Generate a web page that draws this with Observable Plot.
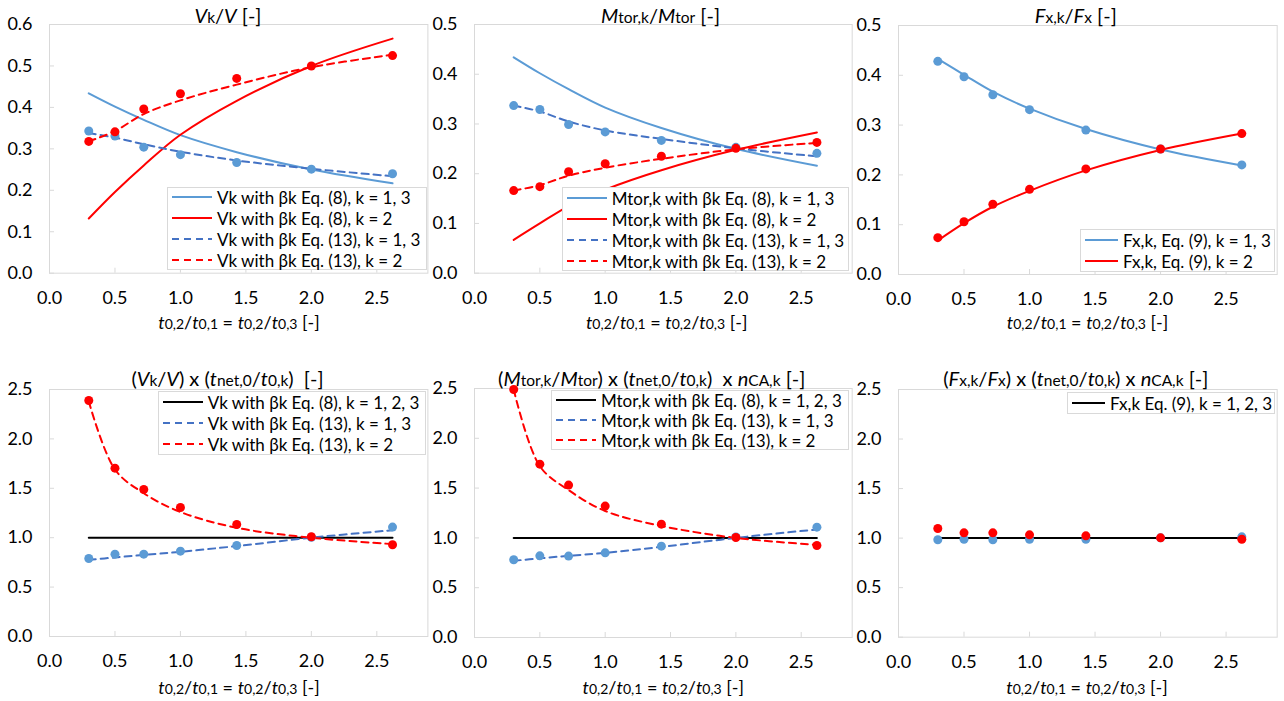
<!DOCTYPE html>
<html><head><meta charset="utf-8">
<script src="https://cdn.jsdelivr.net/npm/d3@7"></script>
<script src="https://cdn.jsdelivr.net/npm/@observablehq/plot@0.6"></script>
<style>
body{margin:0;background:#fff;}
#root{position:relative;width:1284px;height:701px;overflow:hidden;font-family:Lato,sans-serif;color:#000;}
.plot{position:absolute;}
.title{position:absolute;transform:translate(-50%,-50%);white-space:nowrap;font-size:18px;line-height:1;}
.s{font-size:14px;}
.ptitle{font-size:20px;}
.ptitle .s{font-size:15.5px;}
.legend{position:absolute;background:#fff;border:1px solid #d9d9d9;box-sizing:border-box;font-size:17px;}
.row{position:absolute;left:0;right:0;height:20px;white-space:nowrap;}
.row svg{position:absolute;top:0;}
.row span{position:absolute;top:50%;transform:translateY(-50%);line-height:1;}
</style></head>
<body><div id="root"></div>
<script>
// ---------- data ----------
const xRatio = [0.3, 0.5, 0.72, 1.0, 1.43, 2.0, 2.62];
const xTicks = [0, 0.5, 1.0, 1.5, 2.0, 2.5];

// Panel 1: Vk/V
const v_eq8_k13   = [0.434, 0.402, 0.370, 0.333, 0.292, 0.250, 0.217];
const v_eq8_k2    = [0.132, 0.196, 0.260, 0.334, 0.416, 0.500, 0.566];
const v_eq13_k13  = [0.338, 0.327, 0.311, 0.293, 0.272, 0.252, 0.234];
const v_eq13_k2   = [0.318, 0.343, 0.384, 0.417, 0.455, 0.497, 0.527];
const v_pts_k13   = [0.343, 0.331, 0.304, 0.286, 0.267, 0.251, 0.240];
const v_pts_k2    = [0.318, 0.341, 0.396, 0.433, 0.470, 0.500, 0.525];

// Panel 2: Mtor,k/Mtor
const m_eq8_k13   = [0.434, 0.402, 0.370, 0.333, 0.292, 0.250, 0.216];
const m_eq8_k2    = [0.067, 0.100, 0.135, 0.168, 0.207, 0.248, 0.283];
const m_eq13_k13  = [0.337, 0.325, 0.305, 0.287, 0.270, 0.251, 0.235];
const m_eq13_k2   = [0.166, 0.177, 0.196, 0.212, 0.230, 0.249, 0.262];
const m_pts_k13   = [0.337, 0.329, 0.299, 0.284, 0.267, 0.253, 0.241];
const m_pts_k2    = [0.166, 0.174, 0.204, 0.220, 0.235, 0.251, 0.263];

// Panel 3: Fx,k/Fx
const f_eq9_k13   = [0.433, 0.401, 0.367, 0.333, 0.292, 0.251, 0.219];
const f_eq9_k2    = [0.068, 0.103, 0.136, 0.168, 0.209, 0.250, 0.283];
const f_pts_k13   = [0.428, 0.397, 0.361, 0.331, 0.290, 0.252, 0.220];
const f_pts_k2    = [0.074, 0.106, 0.141, 0.171, 0.212, 0.252, 0.283];

// Panel 4: (Vk/V) x (tnet,0/t0,k)
const vn_eq8      = [1, 1, 1, 1, 1, 1, 1];
const vn_eq13_k13 = [0.776, 0.800, 0.825, 0.857, 0.915, 1.000, 1.076];
const vn_eq13_k2  = [2.380, 1.690, 1.450, 1.260, 1.100, 1.000, 0.935];
const vn_pts_k13  = [0.789, 0.833, 0.833, 0.864, 0.921, 1.005, 1.107];
const vn_pts_k2   = [2.389, 1.704, 1.488, 1.306, 1.134, 1.009, 0.928];

// Panel 5: (Mtor,k/Mtor) x (tnet,0/t0,k) x nCA,k
const mn_eq8      = [1, 1, 1, 1, 1, 1, 1];
const mn_eq13_k13 = [0.770, 0.795, 0.820, 0.850, 0.910, 1.000, 1.085];
const mn_eq13_k2  = [2.490, 1.720, 1.480, 1.270, 1.120, 1.000, 0.930];
const mn_pts_k13  = [0.780, 0.820, 0.817, 0.850, 0.917, 1.010, 1.108];
const mn_pts_k2   = [2.490, 1.740, 1.530, 1.319, 1.138, 1.004, 0.924];

// Panel 6: (Fx,k/Fx) x (tnet,0/t0,k) x nCA,k
const fn_eq9      = [1, 1, 1, 1, 1, 1, 1];
const fn_pts_k13  = [0.983, 0.989, 0.983, 0.989, 0.989, 1.003, 1.013];
const fn_pts_k2   = [1.097, 1.053, 1.053, 1.033, 1.023, 1.003, 0.989];

// ---------- styles ----------
const BLUE = "#5B9BD5", DBLUE = "#4472C4", RED = "#FF0000", BLACK = "#000000";
const DASH = "7,5";
const xLabel = '<i>t</i><span class="s">0,2</span>/<i>t</i><span class="s">0,1</span> = <i>t</i><span class="s">0,2</span>/<i>t</i><span class="s">0,3</span> [-]';

const panels = [
  { px0:49.3, px1:427.7, py0:24, py1:272.7, yMax:0.6, yStep:0.1,
    title:'<i>V</i><span class="s">k</span>/<i>V</i> [-]', tx:228, ty:15, lx:239, ly:322,
    lines:[
      {y:v_eq8_k13, stroke:BLUE, label:"Vk with βk Eq. (8), k = 1, 3"},
      {y:v_eq8_k2, stroke:RED, label:"Vk with βk Eq. (8), k = 2"},
      {y:v_eq13_k13, stroke:DBLUE, dash:true, label:"Vk with βk Eq. (13), k = 1, 3"},
      {y:v_eq13_k2, stroke:RED, dash:true, label:"Vk with βk Eq. (13), k = 2"}],
    dots:[{y:v_pts_k13, fill:BLUE},{y:v_pts_k2, fill:RED}],
    legend:{left:167, top:187, w:260, h:83, sample:40}},
  { px0:474.3, px1:852, py0:24, py1:272.7, yMax:0.5, yStep:0.1,
    title:'<i>M</i><span class="s">tor,k</span>/<i>M</i><span class="s">tor</span> [-]', tx:660.5, ty:15, lx:666.7, ly:322,
    lines:[
      {y:m_eq8_k13, stroke:BLUE, label:"Mtor,k with βk Eq. (8), k = 1, 3"},
      {y:m_eq8_k2, stroke:RED, label:"Mtor,k with βk Eq. (8), k = 2"},
      {y:m_eq13_k13, stroke:DBLUE, dash:true, label:"Mtor,k with βk Eq. (13), k = 1, 3"},
      {y:m_eq13_k2, stroke:RED, dash:true, label:"Mtor,k with βk Eq. (13), k = 2"}],
    dots:[{y:m_pts_k13, fill:BLUE},{y:m_pts_k2, fill:RED}],
    legend:{left:561.7, top:187, w:287.3, h:84, sample:40}},
  { px0:898.3, px1:1277, py0:25, py1:274, yMax:0.5, yStep:0.1,
    title:'<i>F</i><span class="s">x,k</span>/<i>F</i><span class="s">x</span> [-]', tx:1075.8, ty:15, lx:1087.5, ly:322,
    lines:[
      {y:f_eq9_k13, stroke:BLUE, label:"Fx,k, Eq. (9), k = 1, 3"},
      {y:f_eq9_k2, stroke:RED, label:"Fx,k, Eq. (9), k = 2"}],
    dots:[{y:f_pts_k13, fill:BLUE},{y:f_pts_k2, fill:RED}],
    legend:{left:1080, top:229, w:195, h:43, sample:33}},
  { px0:49.3, px1:427.7, py0:389, py1:636, yMax:2.5, yStep:0.5,
    title:'(<i>V</i><span class="s">k</span>/<i>V</i>) x (<i>t</i><span class="s">net,0</span>/<i>t</i><span class="s">0,k</span>)&nbsp; [-]', tx:227.5, ty:378, lx:239, ly:686.7,
    lines:[
      {y:vn_eq8, stroke:BLACK, linear:true, label:"Vk with βk Eq. (8), k = 1, 2, 3"},
      {y:vn_eq13_k13, stroke:DBLUE, dash:true, label:"Vk with βk Eq. (13), k = 1, 3"},
      {y:vn_eq13_k2, stroke:RED, dash:true, label:"Vk with βk Eq. (13), k = 2"}],
    dots:[{y:vn_pts_k13, fill:BLUE},{y:vn_pts_k2, fill:RED}],
    legend:{left:157.7, top:391, w:268.3, h:64, sample:40}},
  { px0:474.3, px1:852, py0:387.7, py1:636.7, yMax:2.5, yStep:0.5,
    title:'(<i>M</i><span class="s">tor,k</span>/<i>M</i><span class="s">tor</span>) x (<i>t</i><span class="s">net,0</span>/<i>t</i><span class="s">0,k</span>)&nbsp; x <i>n</i><span class="s">CA,k</span> [-]', tx:651.7, ty:378, lx:663.3, ly:686.7,
    lines:[
      {y:mn_eq8, stroke:BLACK, linear:true, label:"Mtor,k with βk Eq. (8), k = 1, 2, 3"},
      {y:mn_eq13_k13, stroke:DBLUE, dash:true, label:"Mtor,k with βk Eq. (13), k = 1, 3"},
      {y:mn_eq13_k2, stroke:RED, dash:true, label:"Mtor,k with βk Eq. (13), k = 2"}],
    dots:[{y:mn_pts_k13, fill:BLUE},{y:mn_pts_k2, fill:RED}],
    legend:{left:551, top:390, w:298, h:60, sample:40}},
  { px0:898.3, px1:1277, py0:389, py1:636.7, yMax:2.5, yStep:0.5,
    title:'(<i>F</i><span class="s">x,k</span>/<i>F</i><span class="s">x</span>) x (<i>t</i><span class="s">net,0</span>/<i>t</i><span class="s">0,k</span>) x <i>n</i><span class="s">CA,k</span> [-]', tx:1075.8, ty:378, lx:1087, ly:686.7,
    lines:[
      {y:fn_eq9, stroke:BLACK, linear:true, label:"Fx,k Eq. (9), k = 1, 2, 3"}],
    dots:[{y:fn_pts_k13, fill:BLUE},{y:fn_pts_k2, fill:RED}],
    legend:{left:1067, top:391.7, w:208, h:22.3, sample:33}}
];

const root = document.getElementById("root");
const ML = 49, MR = 3, MT = 12, MB = 45, XMAX = 2.89;
const fmt = d3.format(".1f");

for (const p of panels) {
  const yTicks = d3.range(0, p.yMax + 1e-9, p.yStep).map(v => +v.toFixed(2));
  const width = ML + (p.px1 - p.px0) + MR;
  const height = MT + (p.py1 - p.py0) + MB;
  const rows = d => xRatio.map((x, i) => ({x, y: d[i]}));
  const marks = [
    Plot.frame({stroke: "#d9d9d9"}),
    Plot.axisX({ticks: xTicks, tickSize: 0, tickPadding: 18, tickFormat: fmt, label: null}),
    Plot.axisX({ticks: xTicks, tickSize: -5, tickFormat: () => "", stroke: "#d9d9d9", label: null}),
    Plot.axisY({ticks: yTicks, tickSize: 0, tickPadding: 17, tickFormat: fmt, label: null}),
    Plot.axisY({ticks: yTicks, tickSize: -5, tickFormat: () => "", stroke: "#d9d9d9", label: null})
  ];
  for (const l of p.lines) {
    marks.push(Plot.line(rows(l.y), {x: "x", y: "y", stroke: l.stroke, strokeWidth: 2,
      strokeDasharray: l.dash ? DASH : null, curve: l.linear ? "linear" : "catmull-rom"}));
  }
  for (const d of p.dots) {
    marks.push(Plot.dot(rows(d.y), {x: "x", y: "y", fill: d.fill, r: 4.5}));
  }
  const svg = Plot.plot({
    width, height, marginLeft: ML, marginRight: MR, marginTop: MT, marginBottom: MB,
    x: {domain: [0, XMAX], label: null},
    y: {domain: [0, p.yMax], label: null},
    style: {fontFamily: "Lato, sans-serif", fontSize: "18px", color: "#000", background: "transparent", overflow: "visible"},
    marks
  });
  svg.classList.add("plot");
  svg.style.left = (p.px0 - ML) + "px";
  svg.style.top = (p.py0 - MT) + "px";
  root.appendChild(svg);

  // title and x-axis label
  const t = document.createElement("div");
  t.className = "title ptitle"; t.innerHTML = p.title;
  t.style.left = p.tx + "px"; t.style.top = p.ty + "px";
  root.appendChild(t);
  const xl = document.createElement("div");
  xl.className = "title"; xl.innerHTML = xLabel;
  xl.style.left = p.lx + "px"; xl.style.top = p.ly + "px";
  root.appendChild(xl);

  // legend
  const L = p.legend;
  const lg = document.createElement("div");
  lg.className = "legend";
  Object.assign(lg.style, {left: L.left + "px", top: L.top + "px", width: L.w + "px", height: L.h + "px"});
  const n = p.lines.length, rh = L.h / n;
  p.lines.forEach((l, i) => {
    const r = document.createElement("div");
    r.className = "row";
    r.style.top = (i * rh + rh / 2 - 10 - 1) + "px";
    r.innerHTML = `<svg width="${L.sample + 6}" height="20" style="left:4px"><line x1="0" x2="${L.sample}" y1="10" y2="10" stroke="${l.stroke}" stroke-width="2" ${l.dash ? `stroke-dasharray="${DASH}"` : ""}/></svg><span style="left:${L.sample + 9}px">${l.label}</span>`;
    lg.appendChild(r);
  });
  root.appendChild(lg);
}
</script></body></html>
